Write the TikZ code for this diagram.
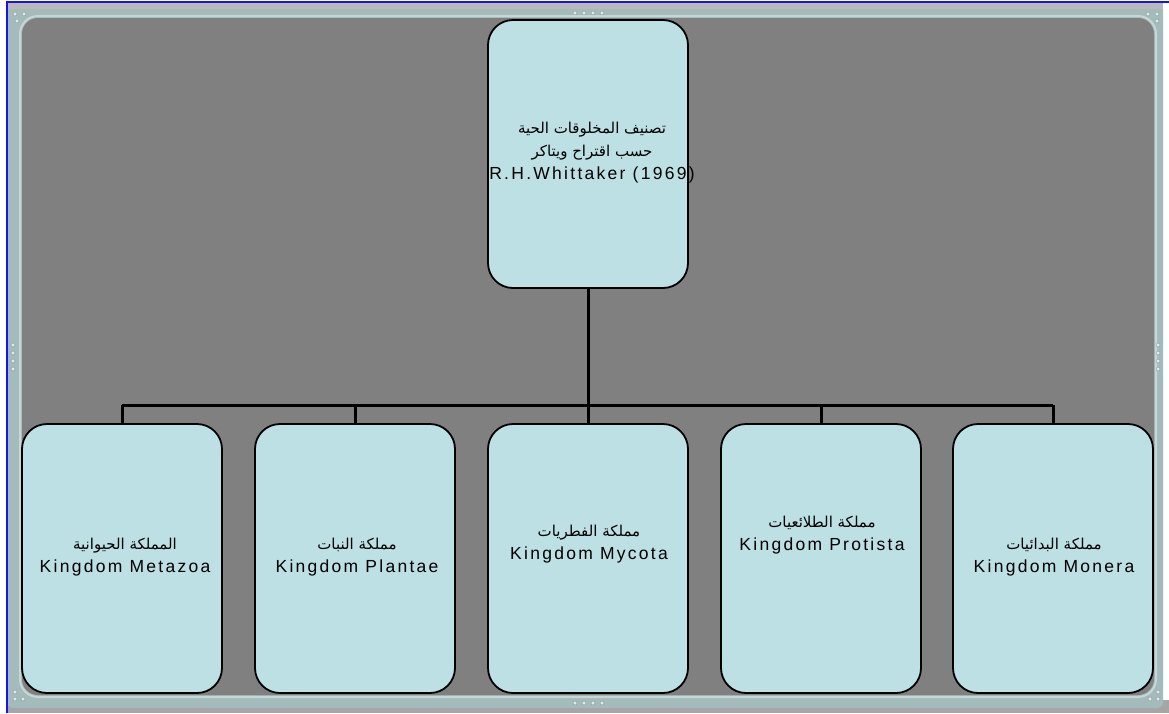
\documentclass[tikz,border=0pt]{standalone}
\usepackage{fontspec}
\setmainfont{Liberation Sans}[LetterSpace=13]
\newfontfamily\arabicfont[Script=Arabic]{DejaVu Sans}
\TeXXeTstate=1
\definecolor{framecol}{RGB}{163,187,187}
\definecolor{framelight}{RGB}{200,214,214}
\definecolor{framedark}{RGB}{120,140,140}
\definecolor{innergray}{RGB}{128,128,128}
\definecolor{boxfill}{RGB}{188,224,228}
\definecolor{edgeblue}{RGB}{20,20,235}
\definecolor{dotcol}{RGB}{225,232,232}
\newcommand{\ar}[1]{{\arabicfont\fontsize{15}{16}\selectfont\beginR #1\endR}}
\tikzset{
  kbox/.style={draw=black, line width=1.8pt, fill=boxfill, rounded corners=25pt,
    minimum width=200pt, minimum height=268pt, inner sep=0pt},
  ktext/.style={align=center, font=\fontsize{17.5}{23}\selectfont, inner sep=0pt},
  conn/.style={draw=black, line width=3pt},
  grip/.style={fill=dotcol, draw=framedark, line width=0.3pt}
}
\begin{document}
\begin{tikzpicture}[x=1pt,y=-1pt]
\useasboundingbox (0,0) rectangle (1169,713);
\fill[white] (0,0) rectangle (1169,713);
% frame
\fill[innergray!70] (6,700) rectangle (1169,713);
\fill[framecol, rounded corners=6pt] (7,3) rectangle (1163,708);
\fill[gray!55] (7,3) rectangle (1163,9);
\draw[framelight, line width=2pt, rounded corners=18pt] (20,16) rectangle (1156,697);
\fill[innergray, rounded corners=16pt] (22,18) rectangle (1154,695);
% blue edges
\draw[edgeblue, line width=2pt] (6.5,713) -- (6.5,1.5) -- (1169,1.5);
% grips
\foreach \p in {(15,14),(24,14),(17,21),(1148,14),(1157,14),(1157,21),
  (1158,692),(1150,699),(1158,699),(15,699),(23,699),(15,692),
  (575,13),(584,13),(593,13),(602,13),(575,703),(584,703),(593,703),(602,703),
  (13,345),(13,353),(13,361),(13,369),(1158,345),(1158,353),(1158,361),(1158,369)}
  \path[grip] \p circle (2pt);
% boxes
\node[kbox] (top) at (588,154) {};
\node[kbox, minimum height=269pt] (b1) at (122,558.5) {};
\node[kbox, minimum height=269pt] (b2) at (355,558.5) {};
\node[kbox, minimum height=269pt] (b3) at (588,558.5) {};
\node[kbox, minimum height=269pt] (b4) at (821,558.5) {};
\node[kbox, minimum height=269pt] (b5) at (1053,558.5) {};
% connectors
\coordinate (bus) at (588,405);
\draw[conn] (top.south) -- (bus);
\draw[conn] (b1.north |- bus) -- (b5.north |- bus);
\foreach \b in {b1,b2,b3,b4,b5}
  \draw[conn] (\b.north |- bus) -- (\b.north);
% texts
\node[ktext] (ttop) at (592,153) {\ar{تصنيف المخلوقات الحية}\\\ar{حسب اقتراح ويتاكر}\\R.H.Whittaker (1969)};
\node[ktext] (t1) at (125,557) {\ar{المملكة الحيوانية}\\Kingdom Metazoa};
\node[ktext] (t2) at (357,557) {\ar{مملكة النبات}\\Kingdom Plantae};
\node[ktext] (t3) at (589,544) {\ar{مملكة الفطريات}\\Kingdom Mycota};
\node[ktext] (t4) at (822,535) {\ar{مملكة الطلائعيات}\\Kingdom Protista};
\node[ktext] (t5) at (1054,557) {\ar{مملكة البدائيات}\\Kingdom Monera};
\end{tikzpicture}
\end{document}
